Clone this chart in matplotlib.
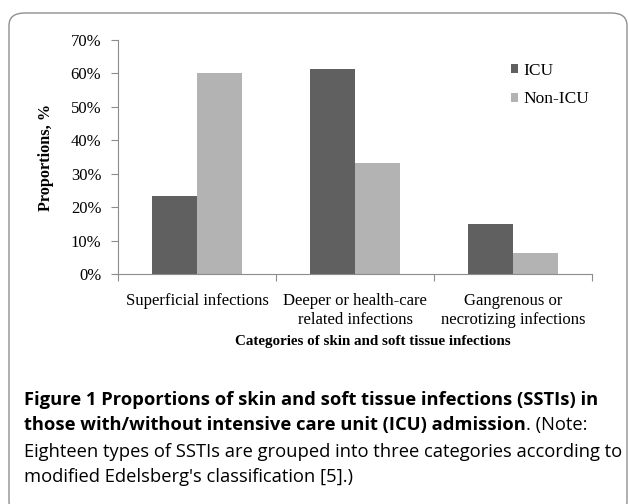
import matplotlib
matplotlib.use("Agg")
import matplotlib.pyplot as plt
import numpy as np
from matplotlib.patches import FancyBboxPatch
from matplotlib.ticker import PercentFormatter

categories = ["Superficial infections",
              "Deeper or health-care\nrelated infections",
              "Gangrenous or\nnecrotizing infections"]
series_names = ["ICU", "Non-ICU"]
icu = [23.4, 61.3, 14.9]
non_icu = [60.1, 33.3, 6.4]
y_ticks = [0, 10, 20, 30, 40, 50, 60, 70]

colors = ["#606060", "#b3b3b3"]
axis_gray = "#8c8c8c"
serif = "Liberation Serif"
sans = "Open Sans"

W, H = 628, 504
fig = plt.figure(figsize=(W / 100, H / 100), dpi=100)

# rounded frame around the figure panel
frame = FancyBboxPatch((9 / W, -10 / H), (618 / W), (H - 13 + 10) / H,
                       boxstyle="round,pad=0,rounding_size=0.025",
                       transform=fig.transFigure, fill=False,
                       edgecolor="#8f8f8f", linewidth=1.0)
fig.patches.append(frame)

ax = fig.add_axes([118 / W, 1 - 274 / H, (592 - 118) / W, (274 - 40) / H])
x = np.arange(len(categories))
bw = 0.285
ax.bar(x - bw / 2, icu, width=bw, color=colors[0], label=series_names[0])
ax.bar(x + bw / 2, non_icu, width=bw, color=colors[1], label=series_names[1])

ax.set_xlim(-0.5, len(categories) - 0.5)
ax.set_ylim(0, 70)
ax.set_yticks(y_ticks)
ax.yaxis.set_major_formatter(PercentFormatter(decimals=0))
ax.set_xticks(np.arange(len(categories) + 1) - 0.5)
ax.set_xticklabels([])
ax.set_xticks(x, minor=True)
ax.set_xticklabels(categories, minor=True, fontfamily=serif, fontsize=12,
                   linespacing=1.3)
ax.tick_params(axis="x", which="minor", length=0, pad=13.5)
ax.tick_params(axis="x", which="major", length=5, color=axis_gray, width=0.8)
ax.tick_params(axis="y", length=5, color=axis_gray, width=0.8, pad=7)
for lab in ax.get_yticklabels():
    lab.set_fontfamily(serif)
    lab.set_fontsize(12)
for s in ["top", "right"]:
    ax.spines[s].set_visible(False)
for s in ["left", "bottom"]:
    ax.spines[s].set_color(axis_gray)
    ax.spines[s].set_linewidth(0.8)

ax.set_ylabel("Proportions, %", fontfamily=serif, fontweight="bold",
              fontsize=11.7, labelpad=12)
fig.text(373 / W, 1 - 342 / H, "Categories of skin and soft tissue infections",
         ha="center", va="center", fontfamily=serif, fontweight="bold",
         fontsize=10.8)

leg = ax.legend(loc="upper left",
                bbox_to_anchor=((511 - 118) / (592 - 118), 1 - (63 - 40) / 234),
                frameon=False, prop={"family": serif, "size": 12.5},
                handlelength=0.42, handleheight=0.42, handletextpad=0.3,
                labelspacing=0.72, borderaxespad=0, borderpad=0)

# caption
cap_size = 13.2
x0 = 24 / W
fig.text(x0, 1 - 400 / H,
         "Figure 1 Proportions of skin and soft tissue infections (SSTIs) in",
         fontfamily=sans, fontweight="bold", fontsize=cap_size, va="center")
t2 = fig.text(x0, 1 - 425 / H,
              "those with/without intensive care unit (ICU) admission",
              fontfamily=sans, fontweight="bold", fontsize=cap_size, va="center")
fig.canvas.draw()
bb = t2.get_window_extent()
fig.text(bb.x1 / W, 1 - 425 / H, ". (Note:", fontfamily=sans,
         fontsize=cap_size, va="center")
fig.text(x0, 1 - 452 / H,
         "Eighteen types of SSTIs are grouped into three categories according to",
         fontfamily=sans, fontsize=cap_size, va="center")
fig.text(x0, 1 - 477 / H,
         "modified Edelsberg's classification [5].)",
         fontfamily=sans, fontsize=cap_size, va="center")

fig.savefig("out.png", dpi=100)
